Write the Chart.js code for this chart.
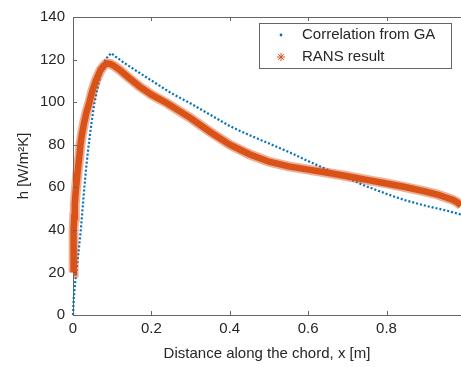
<!DOCTYPE html>
<html>
<head>
<meta charset="utf-8">
<script src="https://cdn.jsdelivr.net/npm/chart.js@4"></script>
<style>
  html, body { margin: 0; padding: 0; background: #fff; }
</style>
</head>
<body>
<canvas id="hChart" width="461" height="367"></canvas>
<script>
// Correlation from GA (blue dots)
const gaX = [0, 0.001, 0.002, 0.004, 0.006, 0.009, 0.012, 0.016, 0.02, 0.024, 0.029, 0.034, 0.04, 0.047, 0.054,
  0.062, 0.069, 0.077, 0.087, 0.097, 0.13, 0.171, 0.21, 0.25, 0.298, 0.35, 0.4, 0.425, 0.45, 0.5, 0.553,
  0.6, 0.655, 0.7, 0.75, 0.8, 0.825, 0.85, 0.9, 0.95, 0.99];
const gaH = [0, 4, 8, 12, 16, 21, 26, 33, 40, 49, 60, 70, 80, 90, 99,
  106, 112, 118.4, 121, 123, 118.5, 113.6, 109, 104.3, 99.6, 94.1, 88.8, 86.6, 84.5, 80.6, 76.4,
  72.3, 67.8, 64.2, 60.4, 56.9, 55.3, 53.8, 51.3, 49.2, 47.2];

// RANS result (orange asterisks)
const ransX = [0.0005, 0.001, 0.0015, 0.002, 0.003, 0.0045, 0.006, 0.008, 0.011, 0.014, 0.017, 0.019, 0.023,
  0.028, 0.034, 0.042, 0.049, 0.058, 0.07, 0.078, 0.086, 0.095, 0.105, 0.12, 0.14, 0.17, 0.2, 0.24, 0.3,
  0.35, 0.4, 0.45, 0.5, 0.55, 0.6, 0.65, 0.7, 0.75, 0.8, 0.85, 0.9, 0.93, 0.95, 0.97, 0.98, 0.99];
const ransH = [20, 26, 33, 40, 46, 52, 56, 60, 66, 71, 76, 80, 85,
  90, 95, 100, 105, 110, 115, 117, 118.2, 118, 117, 115, 111.8, 107.3, 103.5, 99.5, 92.5,
  86, 80, 75.5, 72, 69.8, 68.3, 66.8, 65.2, 63.5, 61.8, 60, 58, 56.6, 55.3, 54, 53, 51.5];

const xTicks = [0, 0.2, 0.4, 0.6, 0.8];
const yTicks = [0, 20, 40, 60, 80, 100, 120, 140];

const BLUE = '#0072BD';
const ORANGE = '#D95319';
const AXIS = '#666666';
const TEXT = '#262626';
const FONT = 'Liberation Sans, Arial, sans-serif';

const toPts = (xs, ys) => xs.map((x, i) => ({ x: x, y: ys[i] }));

// MATLAB-like box: inward ticks, top edge and legend inside the axes
const boxPlugin = {
  id: 'boxPlugin',
  afterDraw(chart) {
    const c = chart.ctx;
    const a = chart.chartArea;
    const xs = chart.scales.x, ys = chart.scales.y;
    c.save();
    c.strokeStyle = AXIS;
    c.lineWidth = 1;
    c.beginPath();
    c.moveTo(a.left, a.top + 0.5);
    c.lineTo(a.right, a.top + 0.5);
    xTicks.forEach(v => {
      const px = Math.round(xs.getPixelForValue(v)) + 0.5;
      c.moveTo(px, a.bottom); c.lineTo(px, a.bottom - 4);
      c.moveTo(px, a.top); c.lineTo(px, a.top + 4);
    });
    yTicks.forEach(v => {
      const py = Math.round(ys.getPixelForValue(v)) + 0.5;
      c.moveTo(a.left, py); c.lineTo(a.left + 4, py);
    });
    c.stroke();

    // legend
    c.fillStyle = '#fff';
    c.fillRect(259, 23, 193, 45);
    c.strokeStyle = AXIS;
    c.strokeRect(259.5, 23.5, 192, 45);
    c.fillStyle = BLUE;
    c.beginPath();
    c.arc(281, 35, 1.4, 0, Math.PI * 2);
    c.fill();
    c.strokeStyle = ORANGE;
    c.lineWidth = 1;
    c.beginPath();
    for (let k = 0; k < 4; k++) {
      const ang = k * Math.PI / 4;
      c.moveTo(281 - 4 * Math.cos(ang), 57 - 4 * Math.sin(ang));
      c.lineTo(281 + 4 * Math.cos(ang), 57 + 4 * Math.sin(ang));
    }
    c.stroke();
    c.fillStyle = TEXT;
    c.font = '15px ' + FONT;
    c.textBaseline = 'middle';
    c.textAlign = 'left';
    c.fillText('Correlation from GA', 302, 35);
    c.fillText('RANS result', 302, 57);
    c.restore();
  }
};

new Chart(document.getElementById('hChart').getContext('2d'), {
  type: 'scatter',
  data: {
    datasets: [
      {
        label: 'Correlation from GA',
        data: toPts(gaX, gaH),
        showLine: true,
        borderColor: BLUE,
        borderWidth: 2.2,
        borderDash: [2, 2],
        pointRadius: 0,
        order: 3,
        clip: { left: 3, top: 0, right: 0, bottom: 3 }
      },
      {
        label: 'RANS result',
        data: toPts(ransX, ransH),
        showLine: true,
        borderColor: 'rgba(217,83,25,0.45)',
        borderWidth: 10,
        pointRadius: 0,
        order: 2,
        clip: { left: 8, top: 0, right: 0, bottom: 0 }
      },
      {
        label: 'RANS core',
        data: toPts(ransX, ransH),
        showLine: true,
        borderColor: ORANGE,
        borderWidth: 6.5,
        pointRadius: 0,
        order: 1,
        clip: { left: 8, top: 0, right: 0, bottom: 0 }
      }
    ]
  },
  options: {
    responsive: false,
    animation: false,
    layout: { padding: { top: 14, left: 0, right: 0, bottom: 0 } },
    scales: {
      x: {
        type: 'linear',
        min: 0,
        max: 0.99,
        afterFit: s => { s.height = 52; },
        afterBuildTicks: s => { s.ticks = xTicks.map(v => ({ value: v })); },
        ticks: { color: TEXT, font: { family: FONT, size: 15 }, padding: 5, maxRotation: 0 },
        grid: { display: true, drawOnChartArea: false, drawTicks: false },
        border: { color: AXIS, width: 1 },
        title: {
          display: true,
          text: 'Distance along the chord, x [m]',
          color: TEXT,
          font: { family: FONT, size: 15 },
          padding: { top: 0, bottom: 4 }
        }
      },
      y: {
        min: 0,
        max: 140,
        afterFit: s => { s.width = 73; },
        afterBuildTicks: s => { s.ticks = yTicks.map(v => ({ value: v })); },
        ticks: { color: TEXT, font: { family: FONT, size: 15 }, padding: 8 },
        grid: { display: true, drawOnChartArea: false, drawTicks: false },
        border: { color: AXIS, width: 1 },
        title: {
          display: true,
          text: 'h [W/m²K]',
          color: TEXT,
          font: { family: FONT, size: 15 },
          padding: { top: 15, bottom: 0 }
        }
      }
    },
    plugins: {
      legend: { display: false },
      tooltip: { enabled: false }
    }
  },
  plugins: [boxPlugin]
});
</script>
</body>
</html>
